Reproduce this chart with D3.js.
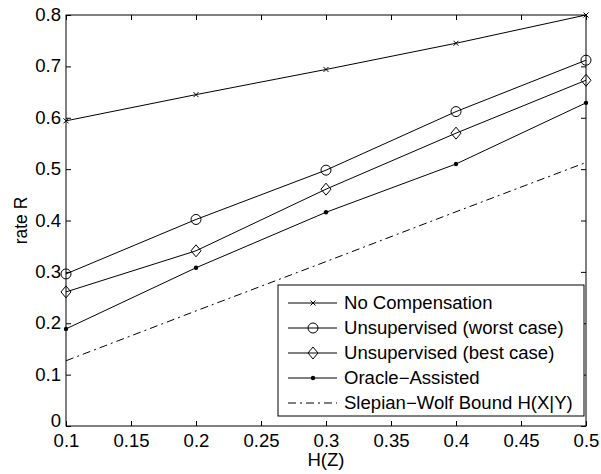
<!DOCTYPE html>
<html>
<head>
<meta charset="utf-8">
<script src="https://cdn.jsdelivr.net/npm/d3@7"></script>
<style>
  body { margin: 0; background: #fff; }
  text { font-family: "Liberation Sans", Arial, sans-serif; fill: #000; }
</style>
</head>
<body>
<div id="chart"></div>
<script>
// data
const hz = [0.1, 0.2, 0.3, 0.4, 0.5];
const noComp = [0.594, 0.645, 0.694, 0.745, 0.800];
const worstCase = [0.296, 0.402, 0.498, 0.612, 0.712];
const bestCase = [0.261, 0.341, 0.461, 0.570, 0.673];
const oracle = [0.189, 0.308, 0.416, 0.510, 0.629];
const slepianWolf = [0.127, 0.224, 0.320, 0.417, 0.513];

const xTicks = [0.1, 0.15, 0.2, 0.25, 0.3, 0.35, 0.4, 0.45, 0.5];
const yTicks = [0, 0.1, 0.2, 0.3, 0.4, 0.5, 0.6, 0.7, 0.8];

const series = [
   { name: 'No Compensation', values: noComp, marker: 'x', dash: null },
   { name: 'Unsupervised (worst case)', values: worstCase, marker: 'circle', dash: null },
   { name: 'Unsupervised (best case)', values: bestCase, marker: 'diamond', dash: null },
   { name: 'Oracle\u2212Assisted', values: oracle, marker: 'dot', dash: null },
   { name: 'Slepian\u2212Wolf Bound H(X|Y)', values: slepianWolf, marker: null, dash: '8,4,2,4' }
];

const width = 601, height = 474;
const margin = { left: 66, right: 15, top: 15, bottom: 48 };
const fontSize = 17.5;
const stretch = 1.06; // the figure is a bit wider than tall, text included

const svg = d3.select('#chart').append('svg')
   .attr('width', width)
   .attr('height', height);

const x = d3.scaleLinear().domain([0.1, 0.5]).range([margin.left, width - margin.right]);
const y = d3.scaleLinear().domain([0, 0.8]).range([height - margin.bottom, margin.top]);

const g = svg.append('g');

// frame
g.append('rect')
   .attr('x', x(0.1)).attr('y', y(0.8))
   .attr('width', x(0.5) - x(0.1)).attr('height', y(0) - y(0.8))
   .attr('fill', 'none').attr('stroke', '#000').attr('stroke-width', 1);

// inward ticks on all four sides
const tickLen = 5;
const fmt = d => d3.format('')(+d.toFixed(2));

const xAxisB = d3.axisBottom(x).tickValues(xTicks).tickSizeInner(-tickLen).tickSizeOuter(0).tickPadding(9).tickFormat(fmt);
const xAxisT = d3.axisTop(x).tickValues(xTicks).tickSizeInner(-tickLen).tickSizeOuter(0).tickFormat('');
const yAxisL = d3.axisLeft(y).tickValues(yTicks).tickSizeInner(-tickLen).tickSizeOuter(0).tickPadding(5).tickFormat(fmt);
const yAxisR = d3.axisRight(y).tickValues(yTicks).tickSizeInner(-tickLen).tickSizeOuter(0).tickFormat('');

function styleAxis(sel) {
   sel.select('.domain').remove();
   sel.selectAll('line').attr('stroke', '#000');
   sel.selectAll('text').attr('font-size', fontSize).attr('font-family', '"Liberation Sans", Arial, sans-serif').attr('fill', '#000')
      .classed('wide', true);
}

g.append('g').attr('transform', `translate(0,${y(0)})`).call(xAxisB).call(styleAxis);
g.append('g').attr('transform', `translate(0,${y(0.8)})`).call(xAxisT).call(styleAxis);
const yLeft = g.append('g').attr('transform', `translate(${x(0.1)},0)`).call(yAxisL).call(styleAxis);
// the "0" sits just above the corner, as in the original
yLeft.selectAll('.tick').filter(d => d === 0).select('text').attr('dy', '0.05em');
g.append('g').attr('transform', `translate(${x(0.5)},0)`).call(yAxisR).call(styleAxis);

// axis labels
svg.append('text')
   .attr('class', 'wide')
   .attr('x', (x(0.1) + x(0.5)) / 2)
   .attr('y', 466)
   .attr('text-anchor', 'middle')
   .attr('font-size', fontSize)
   .text('H(Z)');

svg.append('text')
   .attr('transform', `translate(27,${(y(0) + y(0.8)) / 2}) rotate(-90)`)
   .attr('text-anchor', 'middle')
   .attr('font-size', fontSize)
   .text('rate R');

function drawMarker(sel, type, cx, cy) {
   if (type === 'x') {
      const s = 2.5;
      sel.append('path')
         .attr('d', `M${cx - s},${cy - s}L${cx + s},${cy + s}M${cx - s},${cy + s}L${cx + s},${cy - s}`)
         .attr('stroke', '#000').attr('stroke-width', 1).attr('fill', 'none');
   } else if (type === 'circle') {
      sel.append('circle').attr('cx', cx).attr('cy', cy).attr('r', 5)
         .attr('fill', 'none').attr('stroke', '#000').attr('stroke-width', 1);
   } else if (type === 'diamond') {
      sel.append('path')
         .attr('d', `M${cx},${cy - 6}L${cx + 5},${cy}L${cx},${cy + 6}L${cx - 5},${cy}Z`)
         .attr('fill', 'none').attr('stroke', '#000').attr('stroke-width', 1);
   } else if (type === 'dot') {
      sel.append('circle').attr('cx', cx).attr('cy', cy).attr('r', 2.2).attr('fill', '#000');
   }
}

const line = d3.line().x((d, i) => x(hz[i])).y(d => y(d));

series.forEach(s => {
   const sg = g.append('g');
   sg.append('path')
      .datum(s.values)
      .attr('d', line)
      .attr('fill', 'none')
      .attr('stroke', '#000')
      .attr('stroke-width', 1)
      .attr('stroke-dasharray', s.dash);
   if (s.marker) {
      s.values.forEach((v, i) => drawMarker(sg, s.marker, x(hz[i]), y(v)));
   }
});

// legend
const lx = 278, ly = 285, lw = 306, lh = 131, rowH = 25;
const legend = svg.append('g');
legend.append('rect')
   .attr('x', lx).attr('y', ly).attr('width', lw).attr('height', lh)
   .attr('fill', '#fff').attr('stroke', '#000').attr('stroke-width', 1);

series.forEach((s, i) => {
   const ry = ly + 18 + i * rowH;
   legend.append('line')
      .attr('x1', lx + 10).attr('x2', lx + 59)
      .attr('y1', ry).attr('y2', ry)
      .attr('stroke', '#000').attr('stroke-width', 1)
      .attr('stroke-dasharray', s.dash);
   if (s.marker) drawMarker(legend, s.marker, lx + 35, ry);
   legend.append('text')
      .attr('class', 'wide')
      .attr('x', lx + 66)
      .attr('y', ry)
      .attr('dy', '0.35em')
      .attr('font-size', fontSize)
      .text(s.name);
});

// widen horizontal text to match the stretched original
svg.selectAll('text.wide').each(function() {
   const len = this.getComputedTextLength();
   if (len > 0) {
      d3.select(this).attr('textLength', len * stretch).attr('lengthAdjust', 'spacingAndGlyphs');
   }
});
</script>
</body>
</html>
